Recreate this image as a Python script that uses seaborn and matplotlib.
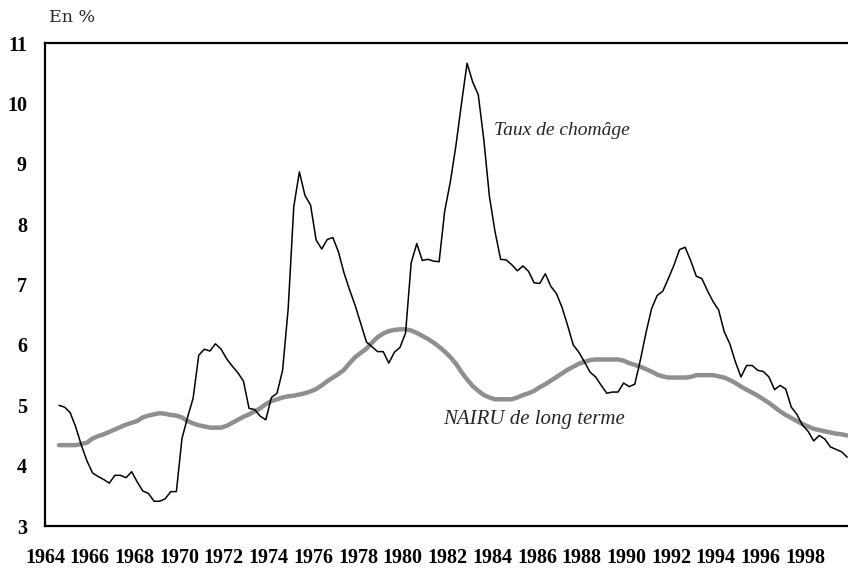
import numpy as np
import pandas as pd
import matplotlib
matplotlib.use("Agg")
import matplotlib.pyplot as plt
import seaborn as sns

# quarterly data, 1964Q3 .. 1999Q4
first_year, first_quarter = 1964, 3
chomage = [
    5.00, 4.97, 4.88, 4.64, 4.34, 4.08, 3.88, 3.82, 3.77, 3.71,
    3.84, 3.84, 3.80, 3.90, 3.73, 3.58, 3.54, 3.41, 3.41, 3.45,
    3.57, 3.57, 4.45, 4.80, 5.12, 5.83, 5.93, 5.90, 6.02, 5.93,
    5.77, 5.65, 5.54, 5.40, 4.95, 4.93, 4.82, 4.76, 5.13, 5.20,
    5.58, 6.60, 8.29, 8.87, 8.48, 8.32, 7.74, 7.59, 7.75, 7.78,
    7.54, 7.19, 6.91, 6.65, 6.35, 6.05, 5.97, 5.89, 5.89, 5.70,
    5.88, 5.96, 6.20, 7.36, 7.68, 7.40, 7.42, 7.39, 7.38, 8.22,
    8.70, 9.30, 10.00, 10.67, 10.36, 10.15, 9.40, 8.46, 7.88, 7.42,
    7.41, 7.33, 7.23, 7.31, 7.22, 7.03, 7.02, 7.18, 6.97, 6.85,
    6.62, 6.32, 6.00, 5.88, 5.72, 5.55, 5.47, 5.33, 5.20, 5.22,
    5.22, 5.37, 5.31, 5.35, 5.75, 6.20, 6.60, 6.82, 6.89, 7.10,
    7.32, 7.58, 7.62, 7.40, 7.14, 7.10, 6.90, 6.72, 6.58, 6.22,
    6.02, 5.72, 5.47, 5.66, 5.66, 5.58, 5.56, 5.47, 5.26, 5.33,
    5.27, 4.97, 4.85, 4.67, 4.57, 4.41, 4.50, 4.44, 4.31, 4.27,
    4.23, 4.14,
]
nairu = [
    4.34, 4.34, 4.34, 4.34, 4.36, 4.38, 4.45, 4.49, 4.52, 4.56,
    4.60, 4.64, 4.68, 4.71, 4.74, 4.80, 4.83, 4.85, 4.87, 4.86,
    4.84, 4.83, 4.80, 4.74, 4.70, 4.67, 4.65, 4.63, 4.63, 4.63,
    4.66, 4.71, 4.76, 4.81, 4.85, 4.90, 4.95, 5.02, 5.07, 5.10,
    5.13, 5.15, 5.16, 5.18, 5.20, 5.23, 5.27, 5.33, 5.40, 5.46,
    5.52, 5.59, 5.70, 5.80, 5.87, 5.94, 6.04, 6.13, 6.19, 6.23,
    6.25, 6.26, 6.26, 6.24, 6.20, 6.15, 6.10, 6.04, 5.97, 5.89,
    5.80, 5.69, 5.55, 5.43, 5.32, 5.24, 5.17, 5.13, 5.10, 5.10,
    5.10, 5.10, 5.13, 5.17, 5.20, 5.24, 5.30, 5.35, 5.41, 5.47,
    5.53, 5.59, 5.64, 5.69, 5.72, 5.75, 5.76, 5.76, 5.76, 5.76,
    5.76, 5.74, 5.70, 5.67, 5.64, 5.60, 5.56, 5.51, 5.48, 5.46,
    5.46, 5.46, 5.46, 5.47, 5.50, 5.50, 5.50, 5.50, 5.48, 5.46,
    5.42, 5.37, 5.31, 5.26, 5.21, 5.16, 5.10, 5.04, 4.97, 4.90,
    4.84, 4.79, 4.74, 4.69, 4.65, 4.61, 4.59, 4.57, 4.55, 4.53,
    4.52, 4.50,
]
year_labels = list(range(1964, 2000, 2))

n = len(chomage)
t = first_year + (first_quarter - 0.5) / 4 + 0.25 * np.arange(n)
df = pd.DataFrame({"t": t, "chomage": chomage, "nairu": nairu})

sns.set_style("white")
plt.rcParams["font.family"] = ["Liberation Serif", "DejaVu Serif"]

fig = plt.figure(figsize=(8.48, 5.72), dpi=100)
ax = fig.add_axes([45 / 848, 46 / 572, 805 / 848, 482.7 / 572])

sns.lineplot(data=df, x="t", y="nairu", color="#8f8f8f", linewidth=3.2, ax=ax)
sns.lineplot(data=df, x="t", y="chomage", color="black", linewidth=1.1, ax=ax)

ax.set_xlim(1964, 2000)
ax.set_ylim(3, 11)
ax.set_xticks(year_labels)
ax.set_xticklabels([str(y) for y in year_labels])
ax.set_xticks(range(1964, 2001), minor=True)
ax.set_yticks(range(3, 12))
ax.set_xlabel("")
ax.set_ylabel("")

for s in ["left", "bottom", "top"]:
    ax.spines[s].set_linewidth(1.6)
    ax.spines[s].set_color("black")
ax.spines["right"].set_visible(False)

ax.tick_params(axis="x", which="both", direction="in", length=6, width=1.3,
               pad=16, colors="black")
ax.tick_params(axis="y", direction="in", length=6, width=1.3, pad=13,
               colors="black")
for lab in ax.get_xticklabels() + ax.get_yticklabels():
    lab.set_fontweight("bold")
    lab.set_fontsize(14.5)

ax.text(1984.1, 9.55, "Taux de chomâge", style="italic", fontsize=14,
        va="center")
ax.text(1981.8, 4.76, "NAIRU de long terme", style="italic", fontsize=15,
        va="center")
fig.text(49 / 848, 1 - 18 / 572, "En %", fontsize=12.5, va="center",
         family="DejaVu Serif")

fig.savefig("out.png", dpi=100)
